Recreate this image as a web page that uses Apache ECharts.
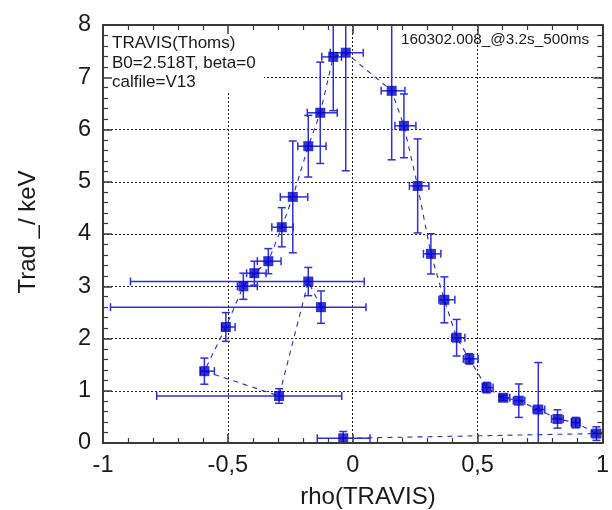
<!DOCTYPE html>
<html><head><meta charset="utf-8">
<script src="https://cdn.jsdelivr.net/npm/echarts@6/dist/echarts.min.js"></script>
<style>html,body{margin:0;padding:0;background:#fff}#c{width:612px;height:510px}</style>
</head><body><div id="c"></div>
<script>
// Data in polyline (channel) order
const rho     = [-0.127,-0.178,-0.295,-0.594,-0.508,-0.438,-0.394,-0.338,-0.284,-0.24,-0.178,-0.13,-0.078,-0.028,0.156,0.205,0.26,0.313,0.367,0.416,0.467,0.536,0.603,0.665,0.743,0.82,0.893,0.976,-0.038];
const trad    = [2.60,3.09,0.90,1.375,2.22,3.00,3.25,3.48,4.13,4.71,5.68,6.32,7.39,7.47,6.74,6.07,4.92,3.62,2.74,2.015,1.61,1.06,0.866,0.81,0.64,0.46,0.39,0.18,0.09];
const rhoLow  = [-0.97,-0.89,-0.785,-0.61,-0.525,-0.462,-0.425,-0.382,-0.324,-0.29,-0.22,-0.182,-0.124,-0.09,0.114,0.169,0.227,0.283,0.345,0.396,0.443,0.52,0.586,0.643,0.722,0.796,0.876,0.955,-0.142];
const rhoHigh = [0.053,0.046,-0.044,-0.554,-0.471,-0.382,-0.347,-0.287,-0.238,-0.18,-0.107,-0.062,-0.045,0.042,0.209,0.253,0.305,0.353,0.409,0.449,0.502,0.562,0.629,0.689,0.769,0.843,0.909,1.0,0.069];
const tradErr = [0.31,0.27,0.14,0.25,0.275,0.25,0.23,0.24,0.375,1.07,0.59,0.97,1.03,2.26,1.32,0.61,0.90,0.385,0.44,0.35,0.10,0.10,0.05,0.32,0.90,0.175,0.10,0.13,0.13];

const xTickValues = [-1,-0.5,0,0.5,1];
const yTickValues = [0,1,2,3,4,5,6,7,8];
const infoLines = ['TRAVIS(Thoms)','B0=2.518T, beta=0','calfile=V13'];
const shotLabel = '160302.008_@3.2s_500ms';
const xTitle = 'rho(TRAVIS)';
const yTitle = 'Trad _/ keV';

const XMIN = xTickValues[0], XMAX = xTickValues[xTickValues.length-1];
const YMIN = yTickValues[0], YMAX = yTickValues[yTickValues.length-1];
const FONT = 'Liberation Sans, Arial, sans-serif';
const frameColor = '#3a3a3a';
const markColor = '#0000c8';
const barColor = '#2f2fe0';

const chart = echarts.init(document.getElementById('c'), null, {renderer:'canvas'});

function frameAxis(pos, isX, showLabel) {
  return {
    type:'value', position: pos, z: 5,
    min: isX ? XMIN : YMIN, max: isX ? XMAX : YMAX, interval: isX ? 0.5 : 1,
    axisLine:{show:true, onZero:false, lineStyle:{color:frameColor, width:2}},
    axisTick:{show:true, inside:true, length:9, lineStyle:{color:frameColor, width:1.5}},
    minorTick:{show:true, splitNumber:5, length:5, lineStyle:{color:frameColor, width:1.2}},
    splitLine:{show:false},
    axisLabel:{show:showLabel, fontFamily:FONT, fontSize:23.5, color:'#1a1a1a', margin: isX ? 11 : 12,
      formatter: v => String(v).replace('.', ',')}
  };
}
function gridAxis(isX) {
  return {
    type:'value', z:0,
    position: isX ? 'bottom' : 'left',
    min: isX ? XMIN : YMIN, max: isX ? XMAX : YMAX, interval: isX ? 0.5 : 1,
    axisLine:{show:false}, axisTick:{show:false}, axisLabel:{show:false},
    splitLine:{show:true, lineStyle:{color:'#222', width:1, type:[2,2]}}
  };
}

const errData = rho.map((r,i)=>[r, trad[i], rhoLow[i], rhoHigh[i], tradErr[i]]);
const ptData = rho.map((r,i)=>[r, trad[i]]);

function clampY(v){ return Math.max(YMIN, Math.min(YMAX, v)); }
function clampX(v){ return Math.max(XMIN, Math.min(XMAX, v)); }

const option = {
  animation:false,
  backgroundColor:'#fff',
  grid:{left:103, right:9, top:25, bottom:67, containLabel:false},
  xAxis:[frameAxis('bottom', true, true), frameAxis('top', true, false), gridAxis(true)],
  yAxis:[frameAxis('left', false, true), frameAxis('right', false, false), gridAxis(false)],
  series:[
    {
      type:'custom', z:3, xAxisIndex:0, yAxisIndex:0,
      data: errData,
      encode:{x:0, y:1},
      renderItem:function(params, api){
        const x = api.value(0), y = api.value(1);
        const xl = api.value(2), xh = api.value(3), ye = api.value(4);
        const cap = 4;
        const st = {stroke:barColor, lineWidth:1.5, fill:null};
        const ch = [];
        const top = y + ye, bot = y - ye;
        const pT = api.coord([x, clampY(top)]), pB = api.coord([x, clampY(bot)]);
        ch.push({type:'line', shape:{x1:pT[0], y1:pT[1], x2:pB[0], y2:pB[1]}, style:st});
        if (top <= YMAX) ch.push({type:'line', shape:{x1:pT[0]-cap, y1:pT[1], x2:pT[0]+cap, y2:pT[1]}, style:st});
        if (bot >= YMIN) ch.push({type:'line', shape:{x1:pB[0]-cap, y1:pB[1], x2:pB[0]+cap, y2:pB[1]}, style:st});
        const pL = api.coord([clampX(xl), y]), pR = api.coord([clampX(xh), y]);
        ch.push({type:'line', shape:{x1:pL[0], y1:pL[1], x2:pR[0], y2:pR[1]}, style:st});
        if (xl >= XMIN) ch.push({type:'line', shape:{x1:pL[0], y1:pL[1]-cap, x2:pL[0], y2:pL[1]+cap}, style:st});
        if (xh < XMAX) ch.push({type:'line', shape:{x1:pR[0], y1:pR[1]-cap, x2:pR[0], y2:pR[1]+cap}, style:st});
        return {type:'group', children:ch};
      }
    },
    {
      type:'line', z:2, xAxisIndex:0, yAxisIndex:0,
      data: ptData, symbol:'none', smooth:false,
      lineStyle:{color:'#2c2cd8', width:1.1, type:[5,5]}
    },
    {
      type:'scatter', z:4, xAxisIndex:0, yAxisIndex:0,
      data: ptData, symbol:'rect', symbolSize:10,
      itemStyle:{color:markColor}
    }
  ],
  graphic:[
    {type:'rect', z:1, shape:{x:104, y:26, width:160, height:67}, style:{fill:'#fff'}},
    {type:'text', z:6, left:112, top:34, style:{text:infoLines.join('\n'), font:'17px '+FONT, fill:'#1a1a1a', lineHeight:19.5}},
    {type:'text', z:6, left:401, top:32, style:{text:shotLabel, font:'15.3px '+FONT, fill:'#1a1a1a'}},
    {type:'text', z:6, style:{text:xTitle, x:368, y:497, font:'24px '+FONT, fill:'#1a1a1a', align:'center', verticalAlign:'middle'}},
    {type:'text', z:6, rotation:Math.PI/2, x:28, y:232, style:{text:yTitle, x:0, y:0, font:'24px '+FONT, fill:'#1a1a1a', align:'center', verticalAlign:'middle'}}
  ]
};
chart.setOption(option);
</script>
</body></html>
